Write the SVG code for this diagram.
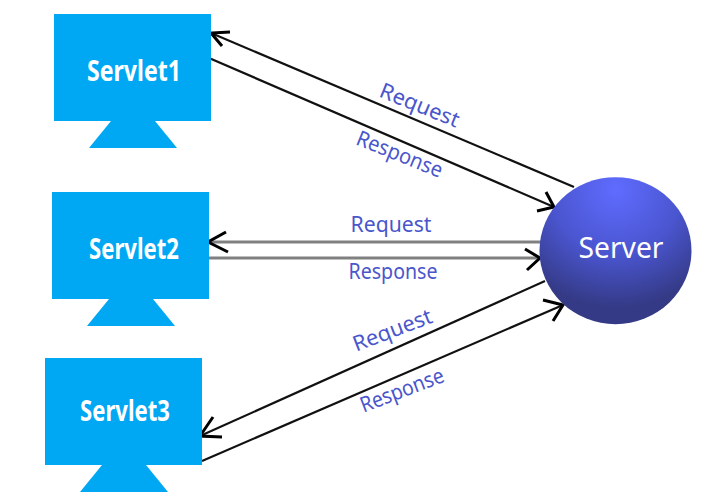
<svg xmlns="http://www.w3.org/2000/svg" width="714" height="503" viewBox="0 0 714 503">
<style>
.box{fill:#00a8f4}
.title{font-family:"Noto Sans","Open Sans",sans-serif;font-weight:700;font-size:28px;fill:#fff;text-anchor:middle}
.lab{font-family:"Noto Sans","Open Sans",sans-serif;font-size:21.5px;fill:#4a56cc;text-anchor:middle}
.line{fill:none;stroke:#111;stroke-width:2.2}
.gray{fill:none;stroke:#808080;stroke-width:3}
.head{fill:none;stroke:#000;stroke-width:3}
</style>
<defs>
<radialGradient id="sphere" gradientUnits="userSpaceOnUse" cx="616" cy="190" r="118">
<stop offset="0" stop-color="#5f6cff"/><stop offset="0.55" stop-color="#4a55cf"/><stop offset="1" stop-color="#343a85"/>
</radialGradient>
</defs>
<g id="connectors">
<path class="line" d="M574 187L211 33"/>
<path class="head" d="M230 32L211 33L222 46"/>
<path class="line" d="M209 58L554 207"/>
<path class="head" d="M546 192L554 207L537 211"/>
<path class="gray" d="M209 242H541"/>
<path class="head" d="M226 232L208 242L228 252"/>
<path class="gray" d="M209 258H541"/>
<path class="head" d="M525 249L540 258L527 270"/>
<path class="line" d="M545 281L200 436"/>
<path class="head" d="M213 417L200 436L222 437"/>
<path class="line" d="M202 461L563 305"/>
<path class="head" d="M543 300L563 305L553 321"/>
</g>
<g id="servlet1">
<rect class="box" x="54" y="14" width="157" height="107"/><path class="box" d="M111 121H155L177 148H89Z"/>
<text class="title" x="134" y="81" textLength="94" lengthAdjust="spacingAndGlyphs">Servlet1</text>
</g>
<g id="servlet2">
<rect class="box" x="52" y="192" width="157" height="107"/><path class="box" d="M109 299H153L175 326H87Z"/>
<text class="title" x="134" y="259" textLength="90" lengthAdjust="spacingAndGlyphs">Servlet2</text>
</g>
<g id="servlet3">
<rect class="box" x="45" y="358" width="157" height="107"/><path class="box" d="M102 465H146L168 492H80Z"/>
<text class="title" x="125" y="421" textLength="90" lengthAdjust="spacingAndGlyphs">Servlet3</text>
</g>
<g id="server">
<ellipse cx="615.5" cy="250.7" rx="76" ry="73.5" fill="url(#sphere)"/>
<text x="621" y="258" font-family="'Noto Sans','Open Sans',sans-serif" font-size="29" fill="#fff" text-anchor="middle" textLength="85" lengthAdjust="spacingAndGlyphs">Server</text>
</g>
<g id="labels">
<text class="lab" transform="translate(417 112) rotate(22)" textLength="84" lengthAdjust="spacingAndGlyphs">Request</text>
<text class="lab" transform="translate(397 161) rotate(22)" textLength="91" lengthAdjust="spacingAndGlyphs">Response</text>
<text class="lab" x="391" y="232" textLength="81" lengthAdjust="spacingAndGlyphs">Request</text>
<text class="lab" x="393" y="279" textLength="89" lengthAdjust="spacingAndGlyphs">Response</text>
<text class="lab" transform="translate(395 337) rotate(-21)" textLength="83" lengthAdjust="spacingAndGlyphs">Request</text>
<text class="lab" transform="translate(404.500 397) rotate(-21)" textLength="88" lengthAdjust="spacingAndGlyphs">Response</text>
</g>
</svg>
